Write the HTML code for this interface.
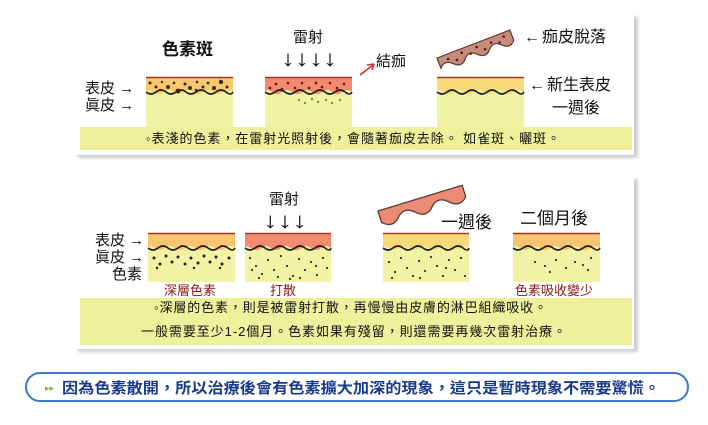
<!DOCTYPE html>
<html><head><meta charset="utf-8"><style>
html,body{margin:0;padding:0;background:#fff;}
svg{display:block;}
text{font-family:"Liberation Sans","Noto Sans CJK TC",sans-serif;}
</style></head><body>
<svg width="708" height="425" viewBox="0 0 708 425" xmlns="http://www.w3.org/2000/svg">
<defs>
<filter id="sh" x="-5%" y="-5%" width="110%" height="115%"><feGaussianBlur stdDeviation="1.5"/></filter>
</defs>
<rect x="78" y="17" width="560" height="141" fill="#ccc" filter="url(#sh)"/>
<rect x="76" y="15" width="558" height="140" fill="#fff"/>
<rect x="80" y="127" width="552" height="23" fill="#eef09c"/>
<rect x="78" y="179" width="560" height="173" fill="#ccc" filter="url(#sh)"/>
<rect x="76" y="177" width="558" height="172" fill="#fff"/>
<rect x="80" y="298" width="552" height="47" fill="#eef09c"/>

<!-- P1 block1 -->
<rect x="146" y="77" width="87" height="50" fill="#f2f2a4"/>
<path d="M146 77 H233 V92 q-5 -4 -10 0 t-10 0 t-10 0 t-10 0 t-10 0 t-10 0 t-10 0 t-10 0 t-7 0 V77Z" fill="#f6c870"/>
<path d="M146 92 q5 4 10 0 t10 0 t10 0 t10 0 t10 0 t10 0 t10 0 t10 0 t7 0" fill="none" stroke="#222" stroke-width="1.6"/>
<line x1="146" y1="77.5" x2="233" y2="77.5" stroke="#9b3a2a" stroke-width="1.5"/>
<g fill="#3a2a10">
<circle cx="150" cy="83" r="1.5"/><circle cx="156" cy="87" r="1.5"/><circle cx="162" cy="82" r="1.2"/><circle cx="168" cy="87" r="2"/><circle cx="174" cy="83" r="1.3"/><circle cx="178" cy="91" r="2.4"/><circle cx="185" cy="84" r="1.5"/><circle cx="190" cy="88" r="2"/><circle cx="197" cy="82" r="1.3"/><circle cx="203" cy="87" r="1.5"/><circle cx="208" cy="83" r="1.4"/><circle cx="214" cy="88" r="2"/><circle cx="221" cy="82" r="2.2"/><circle cx="227" cy="87" r="1.5"/><circle cx="160" cy="90" r="1.2"/><circle cx="196" cy="90" r="1.3"/>
</g>
<!-- P1 block2 -->
<rect x="265" y="77" width="87" height="50" fill="#f2f2a4"/>
<path d="M265 77 H352 V92 q-5 -4 -10 0 t-10 0 t-10 0 t-10 0 t-10 0 t-10 0 t-10 0 t-10 0 t-7 0 V77Z" fill="#f28a70"/>
<path d="M265 92 q5 4 10 0 t10 0 t10 0 t10 0 t10 0 t10 0 t10 0 t10 0 t7 0" fill="none" stroke="#222" stroke-width="1.6"/>
<line x1="265" y1="77.5" x2="352" y2="77.5" stroke="#9b3a2a" stroke-width="1.5"/>
<g fill="#5a1a10">
<circle cx="270" cy="88" r="1.3"/><circle cx="276" cy="84" r="1.3"/><circle cx="282" cy="89" r="1.3"/><circle cx="288" cy="83" r="1.3"/><circle cx="295" cy="88" r="1.3"/><circle cx="302" cy="83" r="1.3"/><circle cx="309" cy="88" r="1.3"/><circle cx="316" cy="83" r="1.3"/><circle cx="322" cy="87" r="1.3"/><circle cx="330" cy="83" r="1.3"/><circle cx="337" cy="88" r="1.3"/><circle cx="344" cy="84" r="1.3"/>
</g>
<g fill="#6a9a40">
<circle cx="299" cy="100" r="1.2"/><circle cx="305" cy="103" r="1.2"/><circle cx="312" cy="99" r="1.2"/><circle cx="318" cy="102" r="1.2"/><circle cx="326" cy="100" r="1.2"/><circle cx="332" cy="103" r="1.2"/><circle cx="340" cy="100" r="1.2"/>
</g>
<!-- P1 block3 -->
<rect x="437" y="77" width="87" height="50" fill="#f2f2a4"/>
<path d="M437 77 H524 V92 q-5 -4 -10 0 t-10 0 t-10 0 t-10 0 t-10 0 t-10 0 t-10 0 t-10 0 t-7 0 V77Z" fill="#f8da78"/>
<path d="M437 92 q5 4 10 0 t10 0 t10 0 t10 0 t10 0 t10 0 t10 0 t10 0 t7 0" fill="none" stroke="#222" stroke-width="1.6"/>
<line x1="437" y1="77.5" x2="524" y2="77.5" stroke="#9b3a2a" stroke-width="1.5"/>
<!-- scab P1 -->
<g transform="translate(437,58) rotate(-21)">
<path d="M0 0 L78 0 L78 11 q-6 7 -13 0 t-13 0 t-13 0 t-13 0 t-13 0 t-13 0 Z" fill="#c88a7a" stroke="#5a3a30" stroke-width="1.2"/>
<g fill="#5a1a10"><circle cx="10" cy="5" r="1.3"/><circle cx="18" cy="9" r="1.3"/><circle cx="25" cy="4" r="1.3"/><circle cx="33" cy="8" r="1.3"/><circle cx="41" cy="4" r="1.3"/><circle cx="48" cy="9" r="1.3"/><circle cx="56" cy="5" r="1.3"/><circle cx="64" cy="8" r="1.3"/><circle cx="70" cy="4" r="1.3"/></g>
</g>

<!-- P1 text -->
<text x="162" y="55" font-size="17" font-weight="bold" fill="#111">色素斑</text>
<text x="293" y="42" font-size="15" fill="#111">雷射</text>
<text x="281" y="66" font-size="22" font-weight="bold" fill="#111" textLength="56" lengthAdjust="spacingAndGlyphs">↓↓↓↓</text>
<path d="M360 75 L373 65" stroke="#d03030" stroke-width="1.6"/><path d="M374 64 L367 65 M374 64 L372 70" stroke="#d03030" stroke-width="1.6" fill="none"/>
<text x="376" y="66" font-size="15" fill="#111">結痂</text>
<text x="524" y="42" font-size="16" fill="#111">←<tspan dx="2">痂皮脫落</tspan></text>
<text x="529" y="90" font-size="16" fill="#111">←<tspan dx="2">新生表皮</tspan></text>
<text x="552" y="113" font-size="16" fill="#111">一週後</text>
<text x="85" y="93" font-size="15" fill="#111">表皮 <tspan font-weight="bold">→</tspan></text>
<text x="85" y="110" font-size="15" fill="#111">眞皮 <tspan font-weight="bold">→</tspan></text>
<text x="146" y="143" font-size="13" fill="#111" textLength="414">◦表淺的色素，在雷射光照射後，會隨著痂皮去除。 如雀斑、曬斑。</text>

<!-- P2 blocks -->
<g>
<rect x="148" y="233" width="87" height="49" fill="#f2f2a4"/>
<path d="M148 233 H235 V248 q-5 -4 -10 0 t-10 0 t-10 0 t-10 0 t-10 0 t-10 0 t-10 0 t-10 0 t-7 0 V233Z" fill="#f8c470"/>
<path d="M148 248 q5 4 10 0 t10 0 t10 0 t10 0 t10 0 t10 0 t10 0 t10 0 t7 0" fill="none" stroke="#222" stroke-width="1.6"/>
<line x1="148" y1="233.5" x2="235" y2="233.5" stroke="#9b3a2a" stroke-width="1.5"/>
<g fill="#222"><circle cx="154" cy="258" r="1.5"/><circle cx="160" cy="264" r="1.5"/><circle cx="166" cy="256" r="1.5"/><circle cx="172" cy="262" r="1.5"/><circle cx="178" cy="257" r="1.5"/><circle cx="185" cy="264" r="1.5"/><circle cx="191" cy="258" r="1.5"/><circle cx="198" cy="263" r="1.5"/><circle cx="204" cy="256" r="1.5"/><circle cx="210" cy="262" r="1.5"/><circle cx="216" cy="257" r="1.5"/><circle cx="222" cy="264" r="1.5"/><circle cx="229" cy="258" r="1.5"/><circle cx="157" cy="268" r="1.2"/><circle cx="220" cy="268" r="1.2"/><circle cx="194" cy="268" r="1.2"/></g>
</g>
<g>
<rect x="245" y="233" width="86" height="49" fill="#f2f2a4"/>
<path d="M245 233 H331 V248 q-5 -4 -10 0 t-10 0 t-10 0 t-10 0 t-10 0 t-10 0 t-10 0 t-10 0 t-6 0 V233Z" fill="#f28a70"/>
<path d="M245 248 q5 4 10 0 t10 0 t10 0 t10 0 t10 0 t10 0 t10 0 t10 0 t6 0" fill="none" stroke="#222" stroke-width="1.6"/>
<line x1="245" y1="233.5" x2="331" y2="233.5" stroke="#9b3a2a" stroke-width="1.5"/>
<g fill="#333"><circle cx="250" cy="258" r="1.1"/><circle cx="256" cy="266" r="1.1"/><circle cx="262" cy="274" r="1.1"/><circle cx="268" cy="260" r="1.1"/><circle cx="274" cy="270" r="1.1"/><circle cx="281" cy="256" r="1.1"/><circle cx="287" cy="266" r="1.1"/><circle cx="293" cy="276" r="1.1"/><circle cx="299" cy="259" r="1.1"/><circle cx="305" cy="270" r="1.1"/><circle cx="311" cy="262" r="1.1"/><circle cx="317" cy="275" r="1.1"/><circle cx="323" cy="258" r="1.1"/><circle cx="327" cy="268" r="1.1"/><circle cx="259" cy="278" r="1.1"/><circle cx="290" cy="279" r="1.1"/><circle cx="316" cy="266" r="1.1"/><circle cx="252" cy="270" r="1.1"/><circle cx="278" cy="277" r="1.1"/><circle cx="300" cy="278" r="1.1"/></g>
</g>
<g>
<rect x="383" y="233" width="86" height="49" fill="#f2f2a4"/>
<path d="M383 233 H469 V248 q-5 -4 -10 0 t-10 0 t-10 0 t-10 0 t-10 0 t-10 0 t-10 0 t-10 0 t-6 0 V233Z" fill="#f8da78"/>
<path d="M383 248 q5 4 10 0 t10 0 t10 0 t10 0 t10 0 t10 0 t10 0 t10 0 t6 0" fill="none" stroke="#222" stroke-width="1.6"/>
<line x1="383" y1="233.5" x2="469" y2="233.5" stroke="#9b3a2a" stroke-width="1.5"/>
<g fill="#333"><circle cx="389" cy="262" r="1.1"/><circle cx="395" cy="272" r="1.1"/><circle cx="401" cy="258" r="1.1"/><circle cx="407" cy="268" r="1.1"/><circle cx="413" cy="276" r="1.1"/><circle cx="419" cy="261" r="1.1"/><circle cx="425" cy="271" r="1.1"/><circle cx="431" cy="257" r="1.1"/><circle cx="437" cy="266" r="1.1"/><circle cx="443" cy="276" r="1.1"/><circle cx="449" cy="260" r="1.1"/><circle cx="455" cy="270" r="1.1"/><circle cx="461" cy="258" r="1.1"/><circle cx="465" cy="276" r="1.1"/><circle cx="392" cy="278" r="1.1"/><circle cx="420" cy="278" r="1.1"/><circle cx="446" cy="268" r="1.1"/></g>
</g>
<g>
<rect x="513" y="233" width="87" height="49" fill="#f2f2a4"/>
<path d="M513 233 H600 V248 q-5 -4 -10 0 t-10 0 t-10 0 t-10 0 t-10 0 t-10 0 t-10 0 t-10 0 t-7 0 V233Z" fill="#f8c470"/>
<path d="M513 248 q5 4 10 0 t10 0 t10 0 t10 0 t10 0 t10 0 t10 0 t10 0 t7 0" fill="none" stroke="#222" stroke-width="1.6"/>
<line x1="513" y1="233.5" x2="600" y2="233.5" stroke="#9b3a2a" stroke-width="1.5"/>
<g fill="#333"><circle cx="535" cy="262" r="1.1"/><circle cx="545" cy="266" r="1.1"/><circle cx="556" cy="260" r="1.1"/><circle cx="566" cy="268" r="1.1"/><circle cx="575" cy="262" r="1.1"/><circle cx="583" cy="265" r="1.1"/><circle cx="591" cy="258" r="1.1"/><circle cx="550" cy="272" r="1.1"/><circle cx="588" cy="270" r="1.1"/></g>
</g>
<!-- scab P2 -->
<g transform="translate(378,211) rotate(-17)">
<path d="M0 0 L88 0 L88 12 q-8 9 -17.6 0 t-17.6 0 t-17.6 0 t-17.6 0 t-17.6 0 Z" fill="#ec8a78" stroke="#5a3a30" stroke-width="1.3"/>
</g>

<!-- P2 text -->
<text x="269" y="204" font-size="15" fill="#111">雷射</text>
<text x="263" y="228" font-size="22" font-weight="bold" fill="#111" textLength="44" lengthAdjust="spacingAndGlyphs">↓↓↓</text>
<text x="441" y="228" font-size="17" fill="#111">一週後</text>
<text x="520" y="224" font-size="17" fill="#111">二個月後</text>
<text x="95" y="245" font-size="15" fill="#111">表皮 <tspan font-weight="bold">→</tspan></text>
<text x="95" y="262" font-size="15" fill="#111">眞皮 <tspan font-weight="bold">→</tspan></text>
<text x="112" y="279" font-size="15" fill="#111">色素</text>
<text x="164" y="295" font-size="13" fill="#8a1a1a">深層色素</text>
<text x="270" y="295" font-size="13" fill="#8a1a1a">打散</text>
<text x="515" y="295" font-size="13" fill="#8a1a1a">色素吸收變少</text>
<text x="154" y="312" font-size="13" fill="#111" textLength="393">◦深層的色素，則是被雷射打散，再慢慢由皮膚的淋巴組織吸收。</text>
<text x="141" y="336" font-size="13" fill="#111" textLength="425">一般需要至少1-2個月。色素如果有殘留，則還需要再幾次雷射治療。</text>

<!-- bottom pill -->
<rect x="26" y="373" width="662" height="28" rx="14" fill="#fff" stroke="#3a7cc8" stroke-width="2"/>
<text x="45" y="391" font-size="9" fill="#7ab030">▸▸</text>
<text x="62" y="393" font-size="15" font-weight="bold" fill="#1a3a8a" textLength="598" lengthAdjust="spacingAndGlyphs">因為色素散開，所以治療後會有色素擴大加深的現象，這只是暫時現象不需要驚慌。</text>
</svg>
</body></html>
